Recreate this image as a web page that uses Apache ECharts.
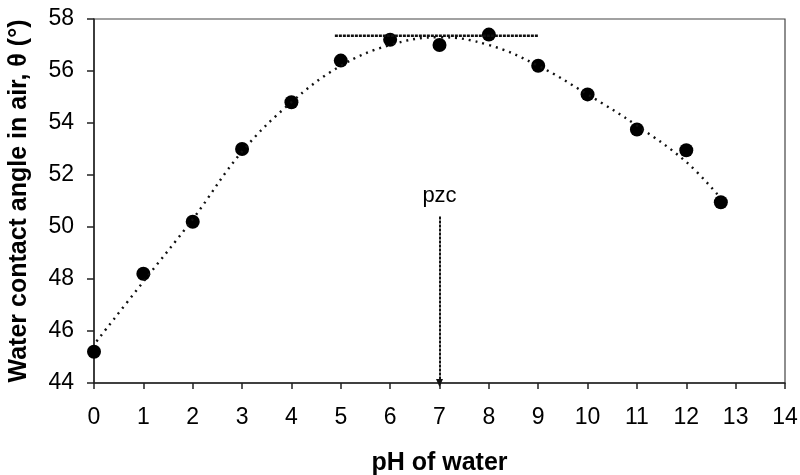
<!DOCTYPE html>
<html><head><meta charset="utf-8">
<script src="https://cdn.jsdelivr.net/npm/echarts@6/dist/echarts.min.js"></script>
<style>html,body{margin:0;padding:0;background:#fff}#c{width:800px;height:475px}</style>
</head><body><div id="c"></div>
<script>
var pH = [0, 1, 2, 3, 4, 5, 6, 7, 8, 9, 10, 11, 12, 12.7];
var angle = [45.2, 48.2, 50.2, 53.0, 54.8, 56.4, 57.2, 57.0, 57.4, 56.2, 55.1, 53.75, 52.95, 50.95];
var fitX = [0.05, 1, 2, 3, 4, 5, 6, 7, 8, 9, 10, 11, 12, 12.7];
var fitY = [45.6, 47.9, 50.3, 52.9, 54.8, 56.2, 57.0, 57.3, 57.0, 56.2, 55.1, 53.9, 52.5, 51.1];
var plateauX = [4.88, 9.0];
var plateauY = 57.36;
var pzcX = 7;
var pzcTop = 50.4;
var pzcLabelY = 51.2;
var xTicks = [0,1,2,3,4,5,6,7,8,9,10,11,12,13,14];
var yTicks = [44,46,48,50,52,54,56,58];

var chart = echarts.init(document.getElementById('c'));
var font = 'Liberation Sans, Arial, sans-serif';
chart.setOption({
  animation: false,
  grid: {left: 94, right: 15, top: 19, bottom: 92, containLabel: false, outerBoundsMode: 'none',
         show: true, borderColor: '#444', borderWidth: 1.2, backgroundColor: 'transparent'},
  xAxis: {
    type: 'value', min: xTicks[0], max: xTicks[xTicks.length-1], interval: 1,
    axisLine: {lineStyle: {color: '#222', width: 1.5}},
    axisTick: {show: true, length: 6, lineStyle: {color: '#222', width: 1.5}},
    axisLabel: {color: '#000', fontSize: 23, fontFamily: font, margin: 23},
    splitLine: {show: false},
    name: 'pH of water', nameLocation: 'middle', nameGap: 68,
    nameTextStyle: {color: '#000', fontSize: 25, fontWeight: 'bold', fontFamily: font}
  },
  yAxis: {
    type: 'value', min: yTicks[0], max: yTicks[yTicks.length-1], interval: 2,
    axisLine: {show: true, lineStyle: {color: '#222', width: 1.5}},
    axisTick: {show: true, length: 7, lineStyle: {color: '#222', width: 1.5}},
    axisLabel: {color: '#000', fontSize: 23, fontFamily: font, margin: 20},
    splitLine: {show: false},
    name: 'Water contact angle in air, θ (°)', nameLocation: 'middle', nameGap: 62,
    nameTextStyle: {color: '#000', fontSize: 25, fontWeight: 'bold', fontFamily: font}
  },
  series: [
    {
      type: 'line', smooth: 0.4, symbol: 'none',
      data: fitX.map(function(x,i){return [x, fitY[i]];}),
      lineStyle: {color: '#111', width: 2.4, type: [2, 5]}
    },
    {
      type: 'line', symbol: 'none',
      data: plateauX.map(function(x){return [x, plateauY];}),
      lineStyle: {color: '#111', width: 2.5, type: [3, 1]}
    },
    {
      type: 'line', symbolSize: 0,
      data: [],
      markLine: {
        silent: true, symbol: ['none', 'triangle'], symbolSize: [7, 8],
        lineStyle: {color: '#111', width: 2, type: [3, 1]},
        itemStyle: {color: '#111'},
        label: {show: false},
        data: [[{coord: [pzcX, pzcTop]}, {coord: [pzcX, yTicks[0]]}]]
      }
    },
    {
      type: 'scatter', symbolSize: 0,
      itemStyle: {opacity: 1},
      data: [[pzcX, pzcLabelY]],
      label: {show: true, formatter: 'pzc', position: 'inside', color: '#000', fontSize: 22, fontFamily: font}
    },
    {
      type: 'scatter', symbol: 'circle', symbolSize: 14,
      itemStyle: {color: '#000', opacity: 1},
      data: pH.map(function(x,i){return [x, angle[i]];})
    }
  ]
});
</script></body></html>
